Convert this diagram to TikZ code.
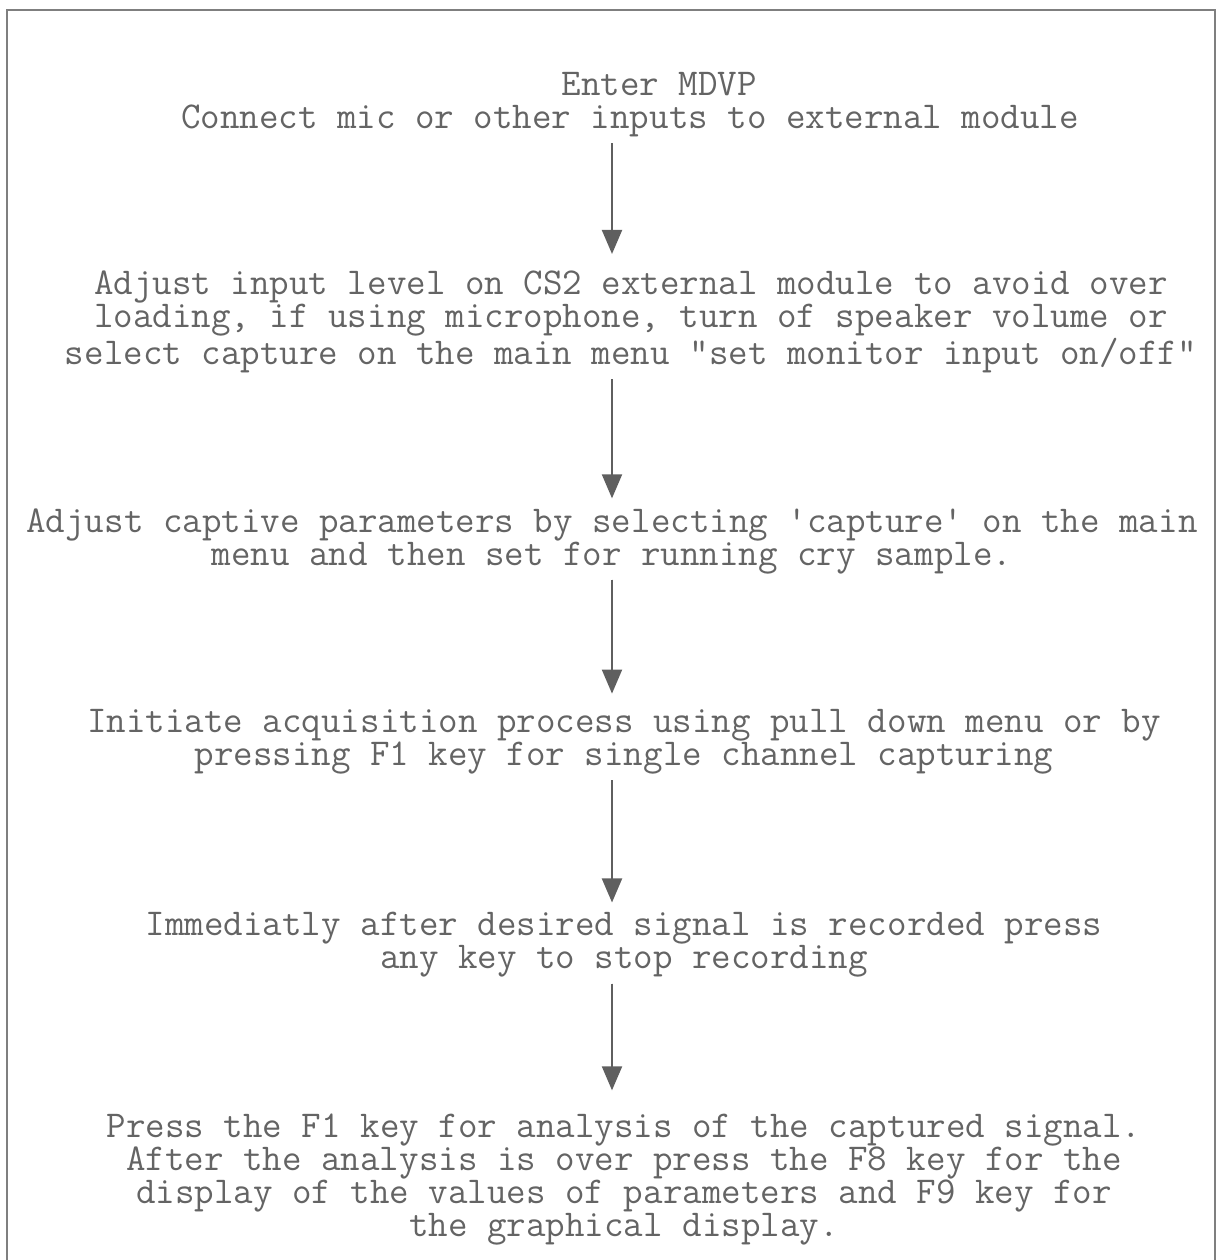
\documentclass[tikz,border=0pt]{standalone}
\usepackage{fontspec}
\usetikzlibrary{arrows.meta,positioning}
\definecolor{inkText}{RGB}{100,100,100}
\definecolor{inkLine}{RGB}{95,95,95}
\tikzset{
    every node/.append style={align=center},
    stepbox/.style={inner sep=0pt,outer sep=3pt,text=inkText,
        font=\ttfamily\fontsize{18.95}{16.5}\selectfont},
    arr/.style={-{Triangle[length=12pt,width=10pt]},draw=inkLine,fill=inkLine,line width=1pt},
    frame/.style={draw=inkLine!80,line width=1pt}
}

\begin{document}
\begin{tikzpicture}[x=0.5pt,y=-0.5pt]
    \useasboundingbox (0,0) rectangle (1223,1260);
    % outer frame, open at the bottom
    \draw[frame] (7,1260) -- (7,10) -- (1215,10) -- (1215,1260);
    % steps
    \node[stepbox] (enter)   at (630,105)  {\phantom{xxx}Enter MDVP\\Connect mic or other inputs to external module};
    \node[stepbox] (level)   at (631,322)  {Adjust input level on CS2 external module to avoid over\\loading, if using microphone, turn of speaker volume or\\select capture on the main menu "set monitor input on/off"};
    \node[stepbox] (captive) at (612,541)  {Adjust captive parameters by selecting 'capture' on the main\\menu and then set for running cry sample.};
    \node[stepbox] (acquire) at (624,742)  {Initiate acquisition process using pull down menu or by\\pressing F1 key for single channel capturing};
    \node[stepbox] (stop)    at (624,945)  {Immediatly after desired signal is recorded press\\any key to stop recording};
    \node[stepbox] (analyse) at (624,1180) {Press the F1 key for analysis of the captured signal.\\After the analysis is over press the F8 key for the\\display of the values of parameters and F9 key for\\the graphical display.};
    % arrows run down one spine
    \coordinate (spine) at (612,0);
    \draw[arr] (enter.south -| spine)   -- ([yshift=5.5pt]level.north -| spine);
    \draw[arr] (level.south -| spine)   -- ([yshift=2pt]captive.north -| spine);
    \draw[arr] (captive.south -| spine) -- ([yshift=5pt]acquire.north -| spine);
    \draw[arr] (acquire.south -| spine) -- ([yshift=2pt]stop.north -| spine);
    \draw[arr] (stop.south -| spine)    -- ([yshift=9pt]analyse.north -| spine);
\end{tikzpicture}
\end{document}
